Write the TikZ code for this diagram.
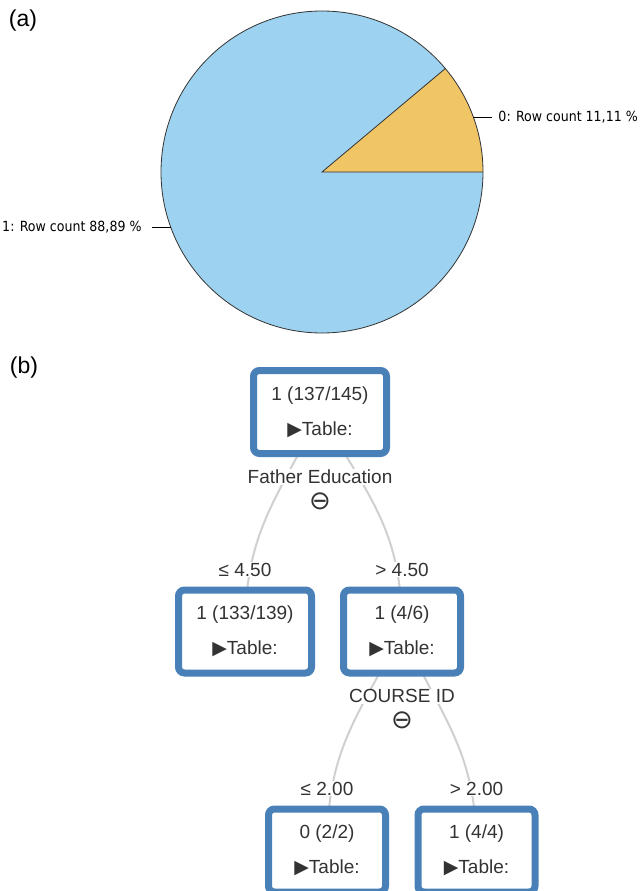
\documentclass[tikz,border=0pt]{standalone}
\usepackage{fontspec}
\setmainfont{Liberation Sans}
\newfontfamily\piefont{DejaVu Sans Condensed}
\newfontfamily\symfont{DejaVu Sans}
\usetikzlibrary{positioning,backgrounds}

\definecolor{pieblue}{HTML}{9DD3F0}
\definecolor{pieorange}{HTML}{F0C566}
\definecolor{boxblue}{HTML}{4A80B8}
\definecolor{linkgray}{HTML}{D0D0D0}
\definecolor{inkgray}{HTML}{333333}

\begin{document}
\begin{tikzpicture}[
  x=1pt, y=1pt,
  every node/.style={font=\fontsize{19}{35}\selectfont, text=inkgray},
  treebox/.style={draw=boxblue, line width=7pt, rounded corners=6pt, fill=white, align=center, minimum height=83pt, inner sep=0pt},
  widebox/.style={treebox, minimum width=133pt},
  slimbox/.style={treebox, minimum width=117pt},
  link/.style={linkgray, line width=2pt},
  splitlbl/.style={fill=white, inner sep=1pt},
  condlbl/.style={fill=white, inner sep=1pt},
  collapse/.style={inner sep=0pt, font=\symfont\fontsize{26}{28}\selectfont},
  pielbl/.style={font=\piefont\fontsize{14}{16}\selectfont, text=black, inner sep=0pt},
  panel/.style={font=\fontsize{23}{26}\selectfont, text=black},
  leader/.style={black, line width=0.8pt}
]
  \useasboundingbox (0,0) rectangle (640,-891);

  % (a) pie chart
  \node[panel] (pa) at (23,-21) {(a)};
  \coordinate (pie) at (322,-172);
  \fill[pieblue] (pie) circle[radius=161];
  \fill[pieorange] (pie) -- ++(0:161) arc[start angle=0, end angle=40, radius=161] -- cycle;
  \draw[inkgray, line width=0.8pt] (pie) circle[radius=161];
  \draw[inkgray, line width=0.8pt] ([shift={(0:161)}]pie) -- (pie) -- ([shift={(40:161)}]pie);

  % slice labels with leaders
  \coordinate (e0) at ([shift={(20:161)}]pie);
  \coordinate (t0) at ([xshift=19pt]e0);
  \node[pielbl, right=6pt of t0] (l0) {0: Row count 11,11 \%};
  \draw[leader] (e0) -- (t0);
  \coordinate (e1) at ([shift={(200:161)}]pie);
  \coordinate (t1) at ([xshift=-19pt]e1);
  \node[pielbl, left=10pt of t1] (l1) {1: Row count 88,89 \%};
  \draw[leader] (e1) -- (t1);

  % (b) decision tree
  \node[panel] (pb) at (24,-368) {(b)};
  \node[widebox] (root) at (320,-412) {1 (137/145)\\{\symfont ▶}Table:};
  \node[widebox] (n1) at (245,-631.5) {1 (133/139)\\{\symfont ▶}Table:};
  \node[slimbox] (n2) at (402,-631.5) {1 (4/6)\\{\symfont ▶}Table:};
  \node[slimbox] (n4) at (327,-850.5) {0 (2/2)\\{\symfont ▶}Table:};
  \node[slimbox] (n5) at (476.5,-850.5) {1 (4/4)\\{\symfont ▶}Table:};

  % split attributes
  \node[splitlbl, below=12pt of root] (fe) {Father Education};
  \node[collapse] (fem) at ([yshift=-16pt]fe.south) {⊖};
  \node[splitlbl, below=12pt of n2] (cid) {COURSE ID};
  \node[collapse] (cidm) at ([yshift=-16pt]cid.south) {⊖};

  % branch conditions
  \foreach \n/\t in {n1/{≤ 4.50}, n2/{> 4.50}, n4/{≤ 2.00}, n5/{> 2.00}} {
    \node[condlbl, above=9pt of \n] (c\n) {\t};
  }

  % links behind everything
  \begin{scope}[on background layer]
    \draw[link] (root.center) .. controls +(-44,-90) and +(0,100) .. (n1.center);
    \draw[link] (root.center) .. controls +(52,-90) and +(0,100) .. (n2.center);
    \draw[link] (n2.center) .. controls +(-47,-90) and +(0,100) .. (n4.center);
    \draw[link] (n2.center) .. controls +(41,-90) and +(0,100) .. (n5.center);
  \end{scope}
\end{tikzpicture}
\end{document}
